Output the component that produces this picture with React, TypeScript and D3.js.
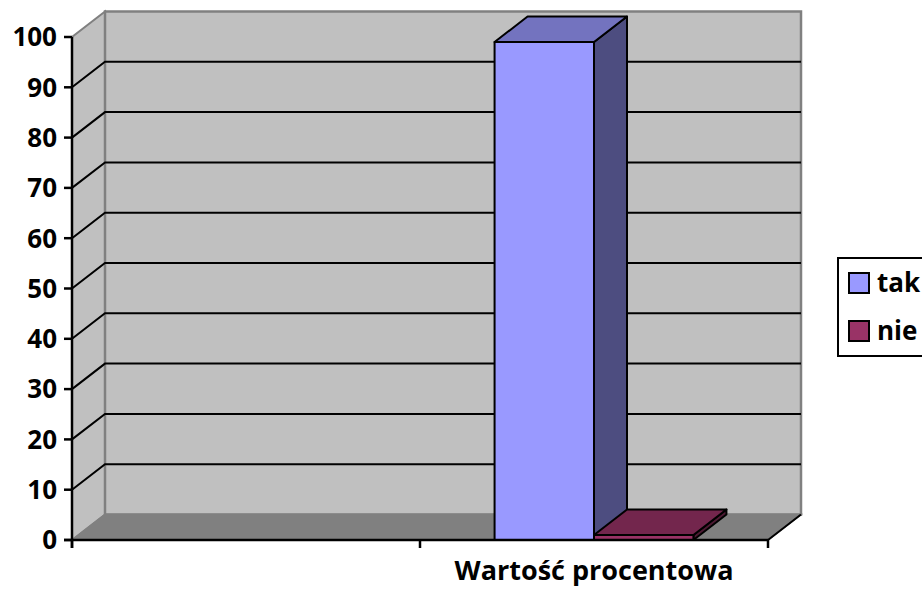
import React, { useEffect, useRef } from "react";
import * as d3 from "d3";

// chart data
const categories = ["", "Wartość procentowa"];
const seriesNames = ["tak", "nie"];
const takValues: (number | null)[] = [null, 99];
const nieValues: (number | null)[] = [null, 1];
const yTicks = [0, 10, 20, 30, 40, 50, 60, 70, 80, 90, 100];

const seriesColors = ["#9999FF", "#993366"];

// scale a colour's channels (Excel shades 3D faces this way)
const shade = (c: string, k: number) => {
  const r = d3.rgb(c);
  return d3.rgb(r.r * k, r.g * k, r.b * k).formatHex();
};

const App = () => {
  const ref = useRef<SVGSVGElement>(null);

  useEffect(() => {
    const width = 922,
      height = 591;
    // depth offset of the 3D box
    const DX = 33,
      DY = -25.5;
    const font = "'Open Sans', sans-serif";

    const svg = d3.select(ref.current);
    svg.selectAll("*").remove();
    svg.attr("width", width).attr("height", height);

    const x = d3.scaleBand().domain(categories).range([72, 768]).padding(0);
    const y = d3.scaleLinear().domain([0, 100]).range([540, 37]);

    const x0 = x.range()[0],
      x1 = x.range()[1];
    const yTop = y(100),
      yBot = y(0);

    const poly = (pts: [number, number][]) =>
      "M" + pts.map((p) => p.join(",")).join("L") + "Z";

    // left side wall
    svg
      .append("path")
      .attr("d", poly([[x0, yBot], [x0, yTop], [x0 + DX, yTop + DY], [x0 + DX, yBot + DY]]))
      .attr("fill", "#C0C0C0")
      .attr("stroke", "#808080")
      .attr("stroke-width", 2);

    // back wall
    svg
      .append("path")
      .attr("d", poly([[x0 + DX, yTop + DY], [x1 + DX, yTop + DY], [x1 + DX, yBot + DY], [x0 + DX, yBot + DY]]))
      .attr("fill", "#C0C0C0")
      .attr("stroke", "#808080")
      .attr("stroke-width", 2.5);

    // floor
    svg
      .append("path")
      .attr("d", poly([[x0, yBot], [x0 + DX, yBot + DY], [x1 + DX, yBot + DY], [x1, yBot]]))
      .attr("fill", "#808080")
      .attr("stroke", "#808080")
      .attr("stroke-width", 1.5);
    svg
      .append("line")
      .attr("x1", x1)
      .attr("y1", yBot)
      .attr("x2", x1 + DX)
      .attr("y2", yBot + DY)
      .attr("stroke", "#000")
      .attr("stroke-width", 2);

    // gridlines
    yTicks
      .filter((t) => t > 0 && t < 100)
      .forEach((t) => {
        const yy = y(t);
        svg
          .append("path")
          .attr("d", `M${x0},${yy}L${x0 + DX},${yy + DY}L${x1 + DX},${yy + DY}`)
          .attr("fill", "none")
          .attr("stroke", "#000")
          .attr("stroke-width", 2);
      });

    // bars
    const barW = x.bandwidth() / 3.5;
    const drawSeries = (vals: (number | null)[], si: number) => {
      const top = shade(seriesColors[si], 0.75);
      const side = shade(seriesColors[si], 0.5);
      vals.forEach((v, i) => {
        if (v == null) return;
        const bx = (x(categories[i]) as number) + barW * 0.75 + si * barW;
        const by = y(v);
        const g = svg.append("g").attr("stroke", "#000").attr("stroke-width", 2).attr("stroke-linejoin", "round");
        g.append("path")
          .attr("d", poly([[bx + barW, by], [bx + barW + DX, by + DY], [bx + barW + DX, yBot + DY], [bx + barW, yBot]]))
          .attr("fill", side);
        g.append("path")
          .attr("d", poly([[bx, by], [bx + DX, by + DY], [bx + barW + DX, by + DY], [bx + barW, by]]))
          .attr("fill", top);
        g.append("rect")
          .attr("x", bx)
          .attr("y", by)
          .attr("width", barW)
          .attr("height", yBot - by)
          .attr("fill", seriesColors[si]);
      });
    };
    drawSeries(takValues, 0);
    drawSeries(nieValues, 1);

    // y axis
    svg
      .append("line")
      .attr("x1", x0)
      .attr("x2", x0)
      .attr("y1", yTop)
      .attr("y2", yBot + 8)
      .attr("stroke", "#000")
      .attr("stroke-width", 2.5);
    yTicks.forEach((t) => {
      svg
        .append("line")
        .attr("x1", x0 - 8)
        .attr("x2", x0)
        .attr("y1", y(t))
        .attr("y2", y(t))
        .attr("stroke", "#000")
        .attr("stroke-width", 2.5);
      svg
        .append("text")
        .attr("x", x0 - 15)
        .attr("y", y(t))
        .attr("dy", "0.36em")
        .attr("text-anchor", "end")
        .style("font-family", font)
        .style("font-weight", "bold")
        .style("font-size", "26px")
        .text(t);
    });

    // x axis
    svg
      .append("line")
      .attr("x1", x0 - 8)
      .attr("x2", x1)
      .attr("y1", yBot)
      .attr("y2", yBot)
      .attr("stroke", "#000")
      .attr("stroke-width", 2.5);
    [x0, ...categories.map((c) => (x(c) as number) + x.bandwidth())].forEach((tx) => {
      svg
        .append("line")
        .attr("x1", tx)
        .attr("x2", tx)
        .attr("y1", yBot)
        .attr("y2", yBot + 8)
        .attr("stroke", "#000")
        .attr("stroke-width", 2.5);
    });
    categories.forEach((c) => {
      svg
        .append("text")
        .attr("x", (x(c) as number) + x.bandwidth() / 2)
        .attr("y", 580)
        .attr("text-anchor", "middle")
        .style("font-family", font)
        .style("font-weight", "bold")
        .style("font-size", "27px")
        .text(c);
    });

    // legend
    const legend = svg.append("g");
    legend
      .append("rect")
      .attr("x", 838)
      .attr("y", 258)
      .attr("width", 100)
      .attr("height", 98)
      .attr("fill", "#fff")
      .attr("stroke", "#000")
      .attr("stroke-width", 2);
    seriesNames.forEach((name, i) => {
      const ly = 273 + i * 48;
      legend
        .append("rect")
        .attr("x", 849)
        .attr("y", ly)
        .attr("width", 20)
        .attr("height", 20)
        .attr("fill", seriesColors[i])
        .attr("stroke", "#000")
        .attr("stroke-width", 2);
      legend
        .append("text")
        .attr("x", 877)
        .attr("y", ly + 10)
        .attr("dy", "0.36em")
        .style("font-family", font)
        .style("font-weight", "bold")
        .style("font-size", "26px")
        .text(name);
    });
  }, []);

  return <svg ref={ref} style={{ position: "absolute", left: 0, top: 0 }}></svg>;
};

export default App;
